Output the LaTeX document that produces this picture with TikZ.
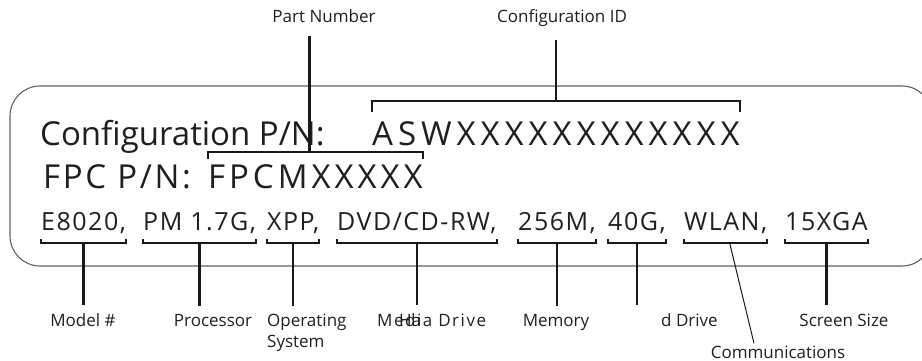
\documentclass[tikz,border=0pt]{standalone}
\usepackage{fontspec}
\newfontfamily\platefont{Open Sans}
\newfontfamily\tagfont{Open Sans}
\usetikzlibrary{positioning}

\tikzset{
  plate/.style={draw=black!62, line width=1.1pt, rounded corners=30pt},
  field/.style={inner sep=0pt, anchor=base west, text=black!88},
  bigline/.style={field, font=\platefont\fontsize{33}{33}\selectfont},
  smallline/.style={field, font=\platefont\fontsize{25}{25}\selectfont\addfontfeature{LetterSpace=6}},
  tag/.style={inner sep=2pt, anchor=base, text=black!88, font=\tagfont\fontsize{17}{21}\selectfont},
  brace/.style={line width=2.2pt, black!90},
  thinlead/.style={line width=1pt, black!90},
}

\begin{document}
\begin{tikzpicture}[x=1pt, y=-1pt]
  \useasboundingbox (0,0) rectangle (922,361);
  \draw[plate] (10,86) rectangle (932,266);

  % the label text
  \node[bigline] (cfgtext) at (40,146) {Configuration P/N:};
  \node[bigline, font=\platefont\fontsize{33}{33}\selectfont\addfontfeature{LetterSpace=15}] (cfgid) at (372,146) {ASWXXXXXXXXXXXX};
  \node[bigline, font=\platefont\fontsize{33}{33}\selectfont\addfontfeature{LetterSpace=8}] (fpctext) at (43,188) {FPC P/N:};
  \node[bigline, font=\platefont\fontsize{33}{33}\selectfont\addfontfeature{LetterSpace=12}] (fpcpn) at (208,188) {FPCMXXXXX};

  \node[smallline] (model) at (41,230) {E8020,};
  \node[smallline] (cpu) at (143,230) {PM 1.7G,};
  \node[smallline] (os) at (267,230) {XPP,};
  \node[smallline] (media) at (337,230) {DVD/CD-RW,};
  \node[smallline] (mem) at (518,230) {256M,};
  \node[smallline] (hdd) at (608,230) {40G,};
  \node[smallline] (wlan) at (684,230) {WLAN,};
  \node[smallline] (screen) at (785,230) {15XGA};

  % callout names
  \node[tag] (partno) at (324,23) {Part Number};
  \node[tag] (cfgtag) at (562,23) {Configuration ID};
  \node[tag] (modeltag) at (83,326) {Model \#};
  \node[tag] (cputag) at (213,326) {Processor};
  \node[tag, anchor=north west, align=left] (ostag) at (265,311.5) {Operating\\System};
  \node[tag, anchor=base west, font=\tagfont\fontsize{17}{21}\selectfont\addfontfeature{LetterSpace=9}] (mediatag) at (375,326) {Media Drive};
  \node[tag, anchor=base west] (hatag) at (397,326) {Ha};
  \node[tag] (memtag) at (556,326) {Memory};
  \node[tag, anchor=base west] (hddtag) at (659,326) {d Drive};
  \node[tag] (screentag) at (844,326) {Screen Size};
  \node[tag] (commtag) at (778,358) {Communications};

  % brackets above
  \draw[brace] ([yshift=34pt]cfgid.base west) -- ([yshift=45pt]cfgid.base west) -- ([yshift=45pt]cfgid.base east) -- ([yshift=34pt]cfgid.base east);
  \draw[brace, shorten >=11pt] ([yshift=45pt]cfgid.base) -- (cfgid.base |- cfgtag.south);
  \draw[brace] ([yshift=29pt]fpcpn.base west) -- ([yshift=36pt]fpcpn.base west) -- ([yshift=36pt]fpcpn.base east) -- ([yshift=29pt]fpcpn.base east);
  \draw[brace, shorten >=11pt] ([xshift=-6pt,yshift=36pt]fpcpn.base) -- ([xshift=-6pt]fpcpn.base |- partno.south);

  % brackets below
  \foreach \f in {model,cpu,os,media,mem,hdd,wlan,screen}
    \draw[brace] ([yshift=-9pt]\f.base west) -- ([yshift=-13pt]\f.base west) -- ([yshift=-13pt]\f.base east) -- ([yshift=-9pt]\f.base east);
  \foreach \f/\t in {model/modeltag,cpu/cputag,os/ostag,media/mediatag,mem/memtag,hdd/hddtag,screen/screentag}
    \draw[brace, shorten >=6pt] ([yshift=-13pt]\f.base) -- (\f.base |- \t.north);
  \draw[thinlead] ([xshift=4pt,yshift=-13pt]wlan.base) -- ([xshift=-24pt]commtag.north);
\end{tikzpicture}
\end{document}
